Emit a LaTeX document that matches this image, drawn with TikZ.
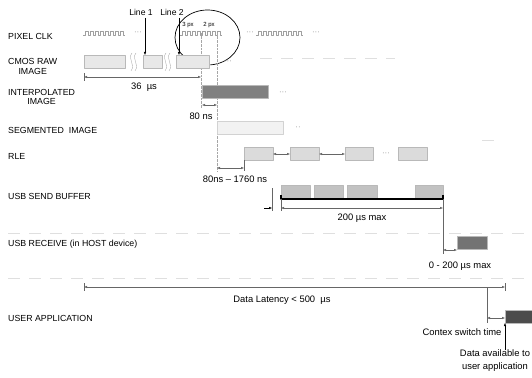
\documentclass[tikz,border=0pt]{standalone}
\usepackage{fontspec}
\setmainfont{Liberation Sans}
\usetikzlibrary{calc,arrows.meta}

\definecolor{rawfill}{gray}{0.91}
\definecolor{segfill}{gray}{0.95}
\definecolor{rlefill}{gray}{0.86}
\definecolor{sndfill}{gray}{0.76}
\definecolor{itpfill}{gray}{0.50}
\definecolor{rcvfill}{gray}{0.45}
\definecolor{appfill}{gray}{0.30}

\tikzset{
  lbl/.style={anchor=west,align=center,inner sep=0pt,font=\fontsize{8.8}{9.8}\selectfont},
  dimtxt/.style={inner sep=0pt,font=\fontsize{9.4}{13}\selectfont},
  dots/.style={inner sep=0pt,text=gray!80,font=\fontsize{8}{9}\selectfont},
  box/.style={draw=gray!55,line width=0.4pt},
  guide/.style={gray!70,densely dotted,line width=0.35pt},
  sep/.style={gray!25,dash pattern=on 12pt off 9pt,line width=0.5pt},
  clkline/.style={gray!75,line width=0.45pt},
  dim/.style={<->,line width=0.3pt,gray!80!black},
  tick/.style={line width=0.3pt,gray!80!black},
  brk/.style={gray!65,line width=0.4pt}
}
% square wave: start x, number of pulses
\newcommand\clkwave[2]{%
  \draw[clkline] (#1,35) \foreach \k in {1,...,#2}{ -- ++(2,0) -- ++(0,-4) -- ++(3,0) -- ++(0,4)} -- ++(2,0);}
% wave break between two boxes
\newcommand\brkmark[1]{%
  \draw[brk] (#1+1,53) .. controls (#1-4,59) and (#1+5,64) .. (#1,71);
  \draw[brk] (#1+5,53) .. controls (#1,59) and (#1+9,64) .. (#1+4,71);}

\begin{document}
\begin{tikzpicture}[x=1pt,y=-1pt,>={Latex[length=3pt,width=2.4pt]},line join=round,font=\fontsize{8.6}{9.6}\selectfont]
	\useasboundingbox (0,0) rectangle (532,377);
	% row labels
	\node[lbl] (clk) at (8,36) {PIXEL CLK};
	\node[lbl] (raw) at (8,66.5) {CMOS RAW\\IMAGE};
	\node[lbl] (itp) at (8,97) {INTERPOLATED\\IMAGE};
	\node[lbl] (seg) at (8,130) {SEGMENTED\ \ IMAGE};
	\node[lbl] (rle) at (8,156) {RLE};
	\node[lbl] (snd) at (8,196) {USB SEND BUFFER};
	\node[lbl] (rcv) at (8,244) {USB RECEIVE (in HOST device)};
	\node[lbl] (app) at (8,318) {USER APPLICATION};
	% faint row separators
	\draw[sep] (260,58) -- (395,58);
	\draw[sep] (482,140) -- (496,140);
	\draw[sep] (8,233) -- (532,233);
	\draw[sep] (8,278) -- (532,278);
	% pixel clock
	\clkwave{83}{8}
	\clkwave{180}{8}
	\clkwave{256}{9}
	\node[dots] (d1) at (138,33) {···};
	\node[dots] (d2) at (250,33) {···};
	\node[dots] (d3) at (316,33) {···};
	\draw[line width=0.7pt] (207.5,37.5) ellipse (32.5 and 27.5);
	\node[inner sep=0pt,font=\fontsize{6}{7}\selectfont] (p3) at (188,25) {3 px};
	\node[inner sep=0pt,font=\fontsize{6}{7}\selectfont] (p2) at (209,25) {2 px};
	% time guides
	\draw[guide] (201,33) -- (201,108);
	\draw[guide] (217,33) -- (217,171);
	% cmos raw image
	\draw[box,fill=rawfill] (84,55) rectangle (125,68);
	\draw[box,fill=rawfill] (143,55) rectangle (162,68);
	\draw[box,fill=rawfill] (176,55) rectangle (209,68);
	\brkmark{131}
	\brkmark{165}
	\node[dots] (d4) at (228,62) {···};
	\node (line1) at (141,12) {Line 1};
	\node (line2) at (172,12) {Line 2};
	\coordinate (t1) at (145,55);
	\coordinate (t2) at (179,55);
	\draw[->,line width=0.35pt] (145,18) -- (t1);
	\draw[->,line width=0.35pt] (179,18) -- (t2);
	\draw[tick] (84,73) -- (84,81);
	\draw[dim] (84,77) -- (201,77);
	\node[dimtxt] (t36) at (144,87) {36~~µs};
	% interpolated image
	\draw[box,fill=itpfill] (202,85) rectangle (268,98);
	\node[dots] (d5) at (283,93) {···};
	\draw[dim] (202,105) -- (217,105);
	\node[dimtxt] (t80) at (201,116) {80 ns};
	% segmented image
	\draw[box,draw=gray!35,fill=segfill] (217,121) rectangle (283,134);
	\node[dots] (d6) at (298,128) {··};
	% rle
	\foreach \a/\b in {244/273,290/319,345/373,398/427}
		\draw[box,fill=rlefill] (\a,147) rectangle (\b,160);
	\node[dots] (d7) at (386,154) {···};
	\draw[dim] (273,154) -- (290,154);
	\draw[dim] (319,154) -- (345,154);
	\draw[tick] (244,160) -- (244,171);
	\draw[dim] (217,168) -- (244,168);
	\node[dimtxt] (t1760) at (235,179) {80ns – 1760 ns};
	% usb send buffer
	\foreach \a/\b in {281/310,314/343,347/377,415/443}
		\draw[box,fill=sndfill] (\a,185) rectangle (\b,199);
	\draw[line width=1.2pt] (281,195) -- (281,199) -- (443,199) -- (443,195);
	\draw[tick] (272,188) -- (272,211);
	\draw[tick] (281,199) -- (281,211);
	\draw[->,line width=0.3pt] (264,208) -- (272,208);
	\draw[dim] (281,208) -- (443,208);
	\draw[tick] (443,199) -- (443,254);
	\node[dimtxt] (t200) at (362,218) {200 µs max};
	% usb receive
	\draw[box,fill=rcvfill] (457,236) rectangle (487,249);
	\draw[dim] (443,250) -- (457,250);
	\node[dimtxt] (t0200) at (460,266) {0 - 200 µs max};
	% latency
	\draw[tick] (84,283) -- (84,291);
	\draw[tick] (505,283) -- (505,291);
	\draw[dim] (84,287) -- (505,287);
	\node[dimtxt] (tlat) at (282,300) {Data Latency < 500~~µs};
	% user application
	\draw[box,fill=appfill] (505,310) rectangle (532,323);
	\draw[tick] (487,287) -- (487,323);
	\draw[dim] (487,318) -- (505,318);
	\node[dimtxt] (tctx) at (462,332) {Contex switch time};
	\coordinate (avl) at (505,323);
	\draw[->,line width=0.35pt] (505,350) -- (avl);
	\node[dimtxt,align=center] (tdat) at (495,361) {Data available to\\user application};
\end{tikzpicture}
\end{document}
